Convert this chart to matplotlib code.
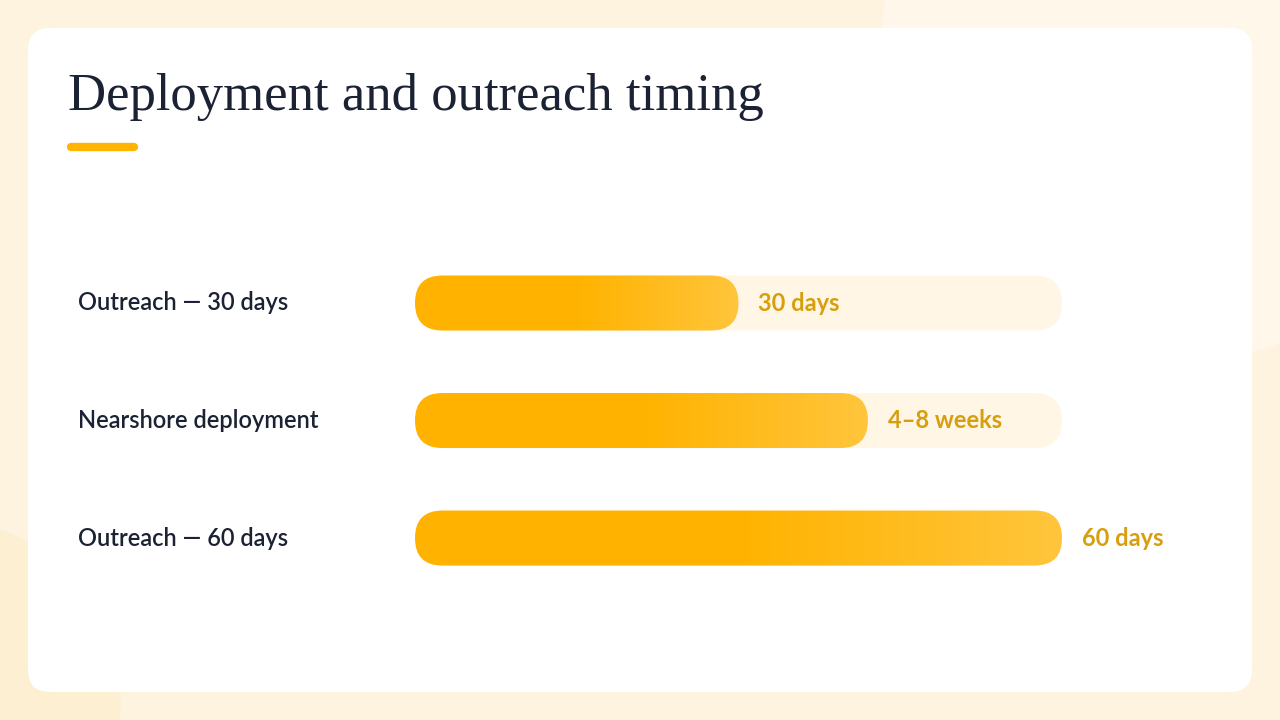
import matplotlib
matplotlib.use("Agg")
import matplotlib.pyplot as plt
import numpy as np
from matplotlib.patches import FancyBboxPatch, Circle
from matplotlib.colors import LinearSegmentedColormap
from matplotlib.transforms import IdentityTransform

categories = ["Outreach — 30 days", "Nearshore deployment", "Outreach — 60 days"]
values = [30, 42, 60]
value_labels = ["30 days", "4–8 weeks", "60 days"]
max_value = 60
title = "Deployment and outreach timing"

fig = plt.figure(figsize=(12.8, 7.2), dpi=100)
fig.patch.set_facecolor("#FDF3DE")
bg = fig.add_axes([0, 0, 1, 1])
bg.set_xlim(0, 1280); bg.set_ylim(720, 0); bg.axis("off")
bg.add_patch(Circle((1180, 60), 300, color="#FEF7EA", zorder=0))
bg.add_patch(Circle((-60, 700), 180, color="#FCEFD2", zorder=0))
bg.add_patch(FancyBboxPatch((28, 28), 1224, 664, boxstyle="round,pad=0,rounding_size=22",
                            fc="white", ec="none", zorder=1))
bg.text(68, 97, title, fontsize=38, family="Liberation Serif", color="#1B2233",
        va="center", ha="left", zorder=2)
bg.plot([71, 134], [147, 147], color="#FFB400", lw=6, solid_capstyle="round", zorder=2)
rows_px = [303, 420, 538]
for lab, yp in zip(categories, rows_px):
    bg.text(78, yp, lab, fontsize=17, family="Lato", weight="semibold", color="#1B2233",
            va="center", ha="left", zorder=2)

ax = fig.add_axes([415/1280, (720-580)/720, 647/1280, 320/720])
ax.axis("off")
ax.set_xlim(0, max_value)
ax.set_ylim(2.357, -0.366)
fig.canvas.draw()
cmap = LinearSegmentedColormap.from_list("g", ["#FFB200", "#FFB300", "#FFC53C"])
grad = np.linspace(0, 1, 256).reshape(1, -1)
h = 55
for i, (v, vl) in enumerate(zip(values, value_labels)):
    x0, yc = ax.transData.transform((0, i))
    x1, _ = ax.transData.transform((max_value, i))
    xv, _ = ax.transData.transform((v, i))
    track = FancyBboxPatch((x0, yc - h/2), x1 - x0, h, boxstyle=f"round,pad=0,rounding_size={h/2}",
                           transform=IdentityTransform(), fc="#FFF6E6", ec="none", zorder=1,
                           clip_on=False)
    ax.add_patch(track)
    bar = FancyBboxPatch((x0, yc - h/2), xv - x0, h, boxstyle=f"round,pad=0,rounding_size={h/2}",
                         transform=IdentityTransform(), fc="none", ec="none", zorder=2,
                         clip_on=False)
    ax.add_patch(bar)
    im = ax.imshow(grad, cmap=cmap, extent=(0, v, i + 0.3, i - 0.3), aspect="auto", zorder=3)
    im.set_clip_path(bar)
    ax.annotate(vl, (v, i), xytext=(20, 0), textcoords="offset pixels", fontsize=17,
                family="Lato", weight="bold", color="#D79E0E", va="center", ha="left",
                annotation_clip=False, zorder=4)
ax.set_xlim(0, max_value)
ax.set_ylim(2.357, -0.366)
fig.savefig("out.png", dpi=100, facecolor=fig.get_facecolor())
